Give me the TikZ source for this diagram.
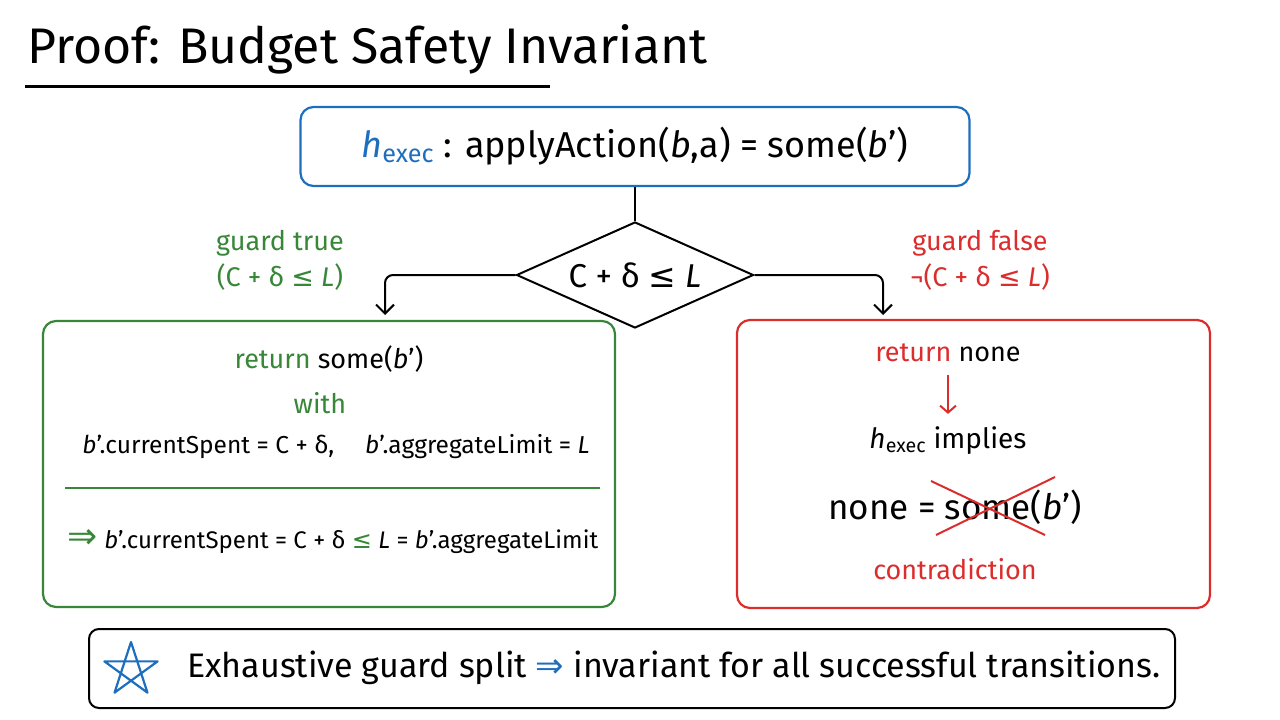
\documentclass[tikz,border=0pt]{standalone}
\usepackage{fontspec}
\setmainfont{Fira Sans}
\newfontfamily\symf{DejaVu Sans}
\usetikzlibrary{arrows.meta,positioning,shapes.geometric,calc}

\definecolor{pblue}{RGB}{30,110,190}
\definecolor{pgreen}{RGB}{56,135,56}
\definecolor{pred}{RGB}{220,45,45}

\newcommand\hx{{\itshape h}\textsubscript{exec}}
\newcommand\bp{{\itshape b}'}
\newcommand\lsym{{\symf ≤}}
\newcommand\isym{{\symf ⇒}}

\begin{document}
\begin{tikzpicture}[x=1pt,y=-1pt,>=Latex,
  card/.style={draw,rounded corners=13pt,line width=2.2pt,inner sep=0pt},
  txt/.style={font=\fontsize{24.5}{28}\selectfont,inner sep=1pt},
  mid/.style={font=\fontsize{27}{32}\selectfont,inner sep=1pt},
  big/.style={font=\fontsize{35}{40}\selectfont,inner sep=1pt},
  flow/.style={-{Straight Barb[length=9pt,width=18pt]},line width=2pt,rounded corners=8pt}]
\useasboundingbox (0,0) rectangle (1280,720);

\node[font=\fontsize{50}{56}\selectfont,anchor=base west,inner sep=0pt] (title) at (27,63) {Proof: Budget Safety Invariant};
\draw[line width=3pt] (25,86) -- (550,86);

\node[card,draw=pblue,minimum width=669pt,minimum height=79pt,font=\fontsize{36}{40}\selectfont] (hyp) at (635,146.5) {\textcolor{pblue}{\hx} : applyAction(\textit{b},a) = some(\bp)};
\node[diamond,draw,line width=2pt,aspect=2.24,minimum width=237pt,minimum height=106pt,inner sep=0pt,font=\fontsize{33}{38}\selectfont] (guard) at (635,275) {C + δ \lsym{} \textit{L}};
\draw[line width=2pt] (hyp) -- (guard);

% the two branches
\coordinate (tin) at (385,315);
\coordinate (fin) at (883,315);
\draw[flow] (guard.west) -| (tin);
\draw[flow] (guard.east) -| (fin);
\node[mid,pgreen,align=center,font=\fontsize{27}{36}\selectfont] (tlab) at (280,260) {guard true\\(C + δ \lsym{} \textit{L})};
\node[mid,pred,align=center,font=\fontsize{27}{36}\selectfont] (flab) at (980,260) {guard false\\¬(C + δ \lsym{} \textit{L})};

% guard true
\node[card,draw=pgreen,minimum width=572pt,minimum height=286pt] (okbox) at (329,464) {};
\node[mid] (ret1) at (329,359) {\textcolor{pgreen}{return} some(\bp)};
\node[mid,pgreen] (with) at (320,403) {with};
\node[txt] (eqs) at (336,447) {\bp.currentSpent = C + δ,\quad\ \bp.aggregateLimit = \textit{L}};
\draw[pgreen,line width=2pt] (65,488) -- (600,488);
\node[txt,font=\fontsize{24}{30}\selectfont] (concl) at (333,542) {\textcolor{pgreen}{\fontsize{36}{30}\selectfont\isym}\ \bp.currentSpent = C + δ \textcolor{pgreen}{\lsym} \textit{L} = \bp.aggregateLimit};

% guard false
\node[card,draw=pred,minimum width=473pt,minimum height=288pt] (badbox) at (973.5,464) {};
\node[mid] (ret2) at (948,353) {\textcolor{pred}{return} none};
\node[mid,font=\fontsize{28}{32}\selectfont] (impl) at (948,441) {\hx\ implies};
\draw[-{Straight Barb[length=7pt,width=16pt]},pred,line width=2pt,shorten <=12pt,shorten >=12pt] (ret2) -- (impl);
\node[big] (none) at (955,507) {none\ =\ some(\bp)};
\draw[pred,line width=2pt] (931,481) -- (1045,535);
\draw[pred,line width=2pt] (1055,477) -- (936,535);
\node[mid,pred] (contra) at (955,569) {contradiction};

% summary
\node[card,draw=black,line width=2pt,rounded corners=10pt,minimum width=1086pt,minimum height=79pt] (sum) at (632,668.5) {};
\draw[pblue,line width=2.2pt,line join=round] ($(131,670)+(-90:28)$) -- ($(131,670)+(-234:28)$) -- ($(131,670)+(-18:28)$) -- ($(131,670)+(-162:28)$) -- ($(131,670)+(-306:28)$) -- cycle;
\node[font=\fontsize{34}{40}\selectfont,anchor=west,inner sep=0pt] (msg) at (187,668) {Exhaustive guard split \textcolor{pblue}{\isym} invariant for all successful transitions.};
\end{tikzpicture}
\end{document}
